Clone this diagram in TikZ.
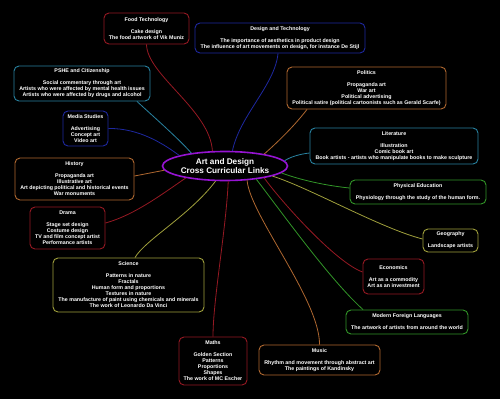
\documentclass[tikz,border=0pt]{standalone}
\usepackage{fontspec}
\setmainfont{Liberation Sans}
\usetikzlibrary{shapes.geometric}
\definecolor{cred}{RGB}{150,25,35}
\definecolor{cnavy}{RGB}{30,40,160}
\definecolor{cbrown}{RGB}{176,104,48}
\definecolor{cteal}{RGB}{40,130,160}
\definecolor{cgreen}{RGB}{50,150,40}
\definecolor{colive}{RGB}{160,160,60}
\definecolor{cpurple}{RGB}{150,20,210}
\tikzset{
  box/.style={draw=#1, rounded corners=5pt, line width=0.9pt, fill=black, text=white,
    align=center, inner sep=0pt, font=\fontsize{5.3}{6}\selectfont\bfseries},
  link/.style={draw=#1, line width=0.8pt},
}
\begin{document}
\begin{tikzpicture}[x=1pt,y=-1pt]
\fill[black] (0,0) rectangle (500,399);
\useasboundingbox (0,0) rectangle (500,399);

\node[ellipse, draw=cpurple, line width=1.6pt, fill=black, minimum width=124pt, minimum height=29pt,
  inner sep=0pt, text=white, align=center, font=\fontsize{8.2}{9}\selectfont\bfseries] (c) at (225,166)
  {Art and Design\\Cross Curricular Links};

\node[box=cred, minimum width=85pt, minimum height=31pt] (food) at (146.5,28.5)
  {Food Technology\\[6pt]Cake design\\The food artwork of Vik Muniz};
\node[box=cnavy, minimum width=170pt, minimum height=30pt] (dt) at (280,38)
  {Design and Technology\\[6pt]The importance of aesthetics in product design\\The influence of art movements on design, for instance De Stijl};
\node[box=cbrown, minimum width=159pt, minimum height=42pt] (pol) at (366.5,88)
  {Politics\\[6pt]Propaganda art\\War art\\Political advertising\\Political satire (political cartoonists such as Gerald Scarfe)};
\node[box=cteal, minimum width=168pt, minimum height=36pt] (lit) at (394,146)
  {Literature\\[6pt]Illustration\\Comic book art\\Book artists - artists who manipulate books to make sculpture};
\node[box=cgreen, minimum width=136pt, minimum height=24pt] (pe) at (418,192)
  {Physical Education\\[6pt]Physiology through the study of the human form.};
\node[box=colive, minimum width=55pt, minimum height=23pt] (geo) at (450.5,240.5)
  {Geography\\[6pt]Landscape artists};
\node[box=cred, minimum width=61pt, minimum height=35pt] (eco) at (393.5,276.5)
  {Economics\\[6pt]Art as a commodity\\Art as an investment};
\node[box=cgreen, minimum width=122pt, minimum height=24pt] (mfl) at (407,322)
  {Modern Foreign Languages\\[6pt]The artwork of artists from around the world};
\node[box=cbrown, minimum width=121pt, minimum height=30pt] (music) at (319.5,360)
  {Music\\[6pt]Rhythm and movement through abstract art\\The paintings of Kandinsky};
\node[box=cred, minimum width=68pt, minimum height=48pt] (maths) at (213,361)
  {Maths\\[6pt]Golden Section\\Patterns\\Proportions\\Shapes\\The work of MC Escher};
\node[box=colive, minimum width=151pt, minimum height=54pt] (sci) at (128.5,285)
  {Science\\[6pt]Patterns in nature\\Fractals\\Human form and proportions\\Textures in nature\\The manufacture of paint using chemicals and minerals\\The work of Leonardo Da Vinci};
\node[box=cred, minimum width=75pt, minimum height=42pt] (drama) at (67.5,228)
  {Drama\\[6pt]Stage set design\\Costume design\\TV and film concept artist\\Performance artists};
\node[box=cbrown, minimum width=119pt, minimum height=42pt] (hist) at (74.5,179)
  {History\\[6pt]Propaganda art\\Illustrative art\\Art depicting political and historical events\\War monuments};
\node[box=cnavy, minimum width=45pt, minimum height=35pt] (media) at (85.5,128.5)
  {Media Studies\\[6pt]Advertising\\Concept art\\Video art};
\node[box=cteal, minimum width=136pt, minimum height=35pt] (pshe) at (82,83.5)
  {PSHE and Citizenship\\[6pt]Social commentary through art\\Artists who were affected by mental health issues\\Artists who were affected by drugs and alcohol};

\path[link=cred] (food.south) .. controls (147,75) and (210,110) .. (c.130);
\path[link=cnavy] ([xshift=-2pt]dt.south) .. controls (275,85) and (240,115) .. (c.64);
\path[link=cbrown] ([xshift=-59.5pt]pol.south) .. controls (295,125) and (280,140) .. (c.17);
\path[link=cteal] ([yshift=-7pt]lit.west) .. controls (300,154) and (290,157) .. (c.5);
\path[link=cgreen] ([yshift=4pt]pe.west) .. controls (320,185) and (295,178) .. (c.353);
\path[link=colive] ([yshift=1.5pt]geo.west) .. controls (380,228) and (310,188) .. (c.348);
\path[link=cred] ([yshift=4.5pt]eco.west) .. controls (335,262) and (280,200) .. (c.343);
\path[link=cgreen] ([xshift=-44pt]mfl.north) .. controls (330,280) and (280,210) .. (c.337);
\path[link=cbrown] (music.north) .. controls (320,300) and (250,215) .. (c.327);
\path[link=cred] (maths.north) .. controls (213,300) and (226,230) .. (c.282);
\path[link=colive] ([xshift=6.5pt]sci.north) .. controls (145,240) and (190,215) .. (c.238);
\path[link=cred] ([yshift=5pt]drama.east) .. controls (135,215) and (165,192) .. (c.197);
\path[link=cbrown] ([yshift=3pt]hist.east) -- (c.184);
\path[link=cnavy] (media.east) .. controls (140,128) and (165,145) .. (c.167);
\path[link=cteal] ([xshift=55pt]pshe.south) .. controls (155,118) and (180,140) .. (c.159);
\end{tikzpicture}
\end{document}
